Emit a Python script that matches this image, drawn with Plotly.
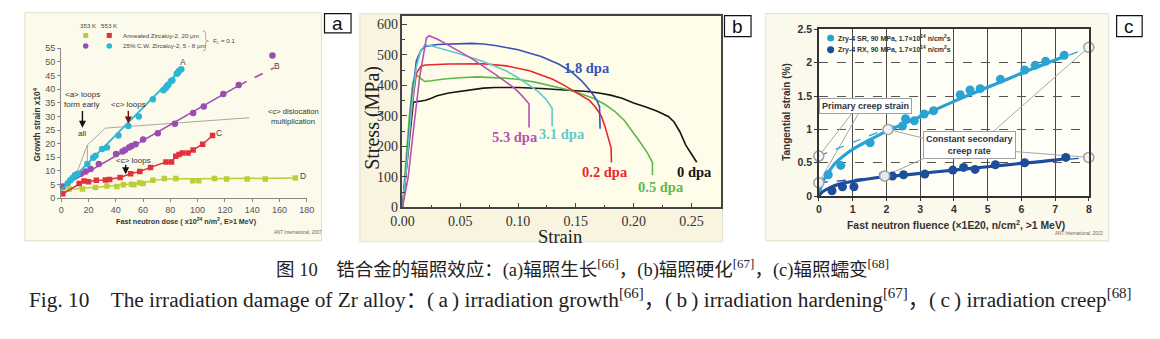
import plotly.graph_objects as go

W, H = 1160, 339
def PX(x): return x / W
def PY(y): return 1 - y / H

NARROW = "Liberation Sans Narrow, Arial Narrow, Liberation Sans, Arial, sans-serif"
SANS = "Liberation Sans, Arial, sans-serif"
SERIF = "Liberation Serif, Times New Roman, serif"
CJK = "Liberation Serif, Noto Sans CJK SC, serif"

# ---------------- Panel (a): irradiation growth ----------------
dose_A = [4.8, 6.7, 8.4, 10.1, 12, 19.2, 23.5, 25.2, 30, 33.6, 42, 49.2, 56.9, 67.2, 74.9, 76.5, 77.5, 78.5, 80.4, 81.5, 84.7, 85.5, 86.5, 88]
strain_A = [5.5, 6.6, 7.4, 8.4, 9.0, 12.5, 14.8, 15.6, 18.0, 18.6, 23.0, 26.5, 30.0, 36.3, 39.6, 40.3, 41.0, 41.6, 42.9, 43.2, 45.6, 46.0, 46.7, 47.3]
fit_A_dose = [0, 88]
fit_A_strain = [3.0, 47.3]

dose_B = [1.2, 14.4, 18, 21.6, 27.6, 40.3, 44.9, 46.8, 49.7, 51.6, 54.5, 60, 70.8, 83.3, 96.7, 104.5, 118.8, 130.1, 154.8]
strain_B = [4.3, 9.0, 9.8, 10.7, 12.5, 16.2, 17.1, 17.7, 18.6, 19.1, 19.8, 21.5, 23.8, 27.3, 31.2, 33.6, 38.2, 41.5, 52.3]
fit_B_dose = [0, 130]
fit_B_strain = [4.0, 41.3]
ext_B_dose = [130, 156]
ext_B_strain = [41.3, 47.8]

dose_C = [1.2, 13.2, 16.8, 20, 25.8, 32.4, 35.5, 43.2, 50.9, 57.6, 65.5, 76.8, 80.9, 84, 86.4, 88.8, 93, 96.7, 103.7, 110.9]
strain_C = [1.6, 5.4, 6.3, 6.0, 6.6, 6.7, 6.9, 7.6, 9.0, 9.8, 11.3, 13.3, 13.3, 15.4, 16.0, 16.6, 16.6, 17.7, 19.8, 23.0]

dose_D = [6.0, 15.6, 25.2, 33.6, 40.8, 45.6, 51.6, 53.3, 57.6, 60, 67.2, 75.6, 84, 96.5, 100.8, 112.3, 121.2, 136.3, 149.5, 171.6]
strain_D = [3.4, 3.4, 3.9, 4.5, 4.3, 4.9, 5.1, 4.9, 5.7, 5.4, 6.6, 7.2, 7.2, 6.4, 6.4, 7.2, 7.0, 7.0, 7.0, 7.4]
fit_D_dose = [0, 20, 40, 60, 75, 100, 172]
fit_D_strain = [3.0, 3.8, 4.7, 5.8, 7.0, 7.1, 7.4]

guide_a1_dose = [12, 19.2, 32.4, 138]
guide_a1_strain = [10, 19.5, 25.7, 29.5]
guide_a2_dose = [19.2, 19.2]
guide_a2_strain = [19.5, 11.9]

xticks_a = list(range(0, 181, 20))
yticks_a = list(range(0, 56, 5))

# ---------------- Panel (b): stress-strain ----------------
e_0 = [0, 0.003, 0.006, 0.0094, 0.015, 0.02, 0.025, 0.03, 0.04, 0.05, 0.06, 0.07, 0.08, 0.1, 0.12, 0.14, 0.15, 0.16, 0.17, 0.18, 0.19, 0.2, 0.21, 0.22, 0.23, 0.235, 0.24, 0.245, 0.25, 0.2546]
s_0 = [0, 110, 230, 345, 348, 351, 358, 366, 375, 380, 387, 391, 393, 393, 390, 386, 383, 380, 375, 368, 358, 342, 330, 316, 298, 280, 248, 205, 175, 148]
e_05 = [0, 0.003, 0.006, 0.009, 0.0122, 0.015, 0.0193, 0.025, 0.036, 0.05, 0.0646, 0.0873, 0.1, 0.1156, 0.13, 0.145, 0.155, 0.165, 0.175, 0.184, 0.192, 0.2, 0.206, 0.212, 0.2163, 0.2163]
s_05 = [0, 150, 300, 410, 435, 425, 413, 415, 421, 425, 428, 424, 420, 410, 398, 384, 372, 358, 338, 314, 285, 245, 212, 178, 147, 105]
e_02 = [0, 0.004, 0.008, 0.012, 0.016, 0.02, 0.04, 0.07, 0.09, 0.11, 0.13, 0.14, 0.148, 0.155, 0.162, 0.167, 0.172, 0.175, 0.178, 0.1805, 0.1808]
s_02 = [0, 150, 320, 440, 463, 467, 470, 471, 464, 448, 420, 400, 382, 368, 350, 328, 300, 268, 230, 195, 147]
e_18 = [0, 0.004, 0.008, 0.012, 0.016, 0.02, 0.03, 0.045, 0.06, 0.07, 0.08, 0.1, 0.12, 0.135, 0.145, 0.155, 0.163, 0.168, 0.1705, 0.171]
s_18 = [0, 160, 350, 480, 515, 528, 534, 537, 538, 536, 531, 517, 495, 470, 448, 415, 380, 352, 330, 258]
e_31 = [0, 0.004, 0.008, 0.012, 0.016, 0.0193, 0.025, 0.03, 0.05, 0.07, 0.09, 0.1, 0.11, 0.118, 0.124, 0.128, 0.1295, 0.1295]
s_31 = [0, 150, 330, 460, 515, 532, 530, 524, 503, 478, 447, 425, 400, 378, 355, 335, 325, 265]
e_53 = [0, 0.005, 0.01, 0.015, 0.0207, 0.023, 0.03, 0.04, 0.05, 0.06, 0.07, 0.08, 0.09, 0.097, 0.103, 0.107, 0.1095, 0.1095]
s_53 = [0, 100, 270, 430, 555, 563, 552, 532, 510, 488, 463, 437, 410, 390, 368, 350, 340, 262]
xticks_b = [0, 0.05, 0.10, 0.15, 0.20, 0.25]
yticks_b = [0, 100, 200, 300, 400, 500, 600]

# ---------------- Panel (c): irradiation creep ----------------
fl_SR = [0.28, 0.65, 1.52, 2.48, 2.57, 2.83, 3.12, 3.4, 4.19, 4.48, 4.78, 5.38, 6.1, 6.41, 6.72, 7.27]
eps_SR = [0.32, 0.46, 0.80, 1.05, 1.16, 1.13, 1.23, 1.28, 1.52, 1.59, 1.61, 1.75, 1.89, 1.96, 2.02, 2.11]
fl_RX = [0.39, 0.70, 1.04, 1.91, 2.18, 2.51, 3.14, 3.97, 4.29, 4.63, 5.23, 6.1, 7.32]
eps_RX = [0.08, 0.14, 0.14, 0.31, 0.30, 0.32, 0.33, 0.39, 0.43, 0.40, 0.47, 0.50, 0.58]
curve_SR_x = [0, 0.05, 0.15, 0.3, 0.5, 0.75, 1.0, 1.5, 2.0, 2.5, 3, 4, 5, 6, 7, 7.3]
curve_SR_y = [0, 0.12, 0.25, 0.37, 0.5, 0.61, 0.7, 0.84, 0.97, 1.08, 1.19, 1.42, 1.63, 1.84, 2.04, 2.1]
curve_RX_x = [0, 0.1, 0.3, 0.6, 1.0, 1.5, 2.0, 3, 4, 5, 6, 7, 7.3]
curve_RX_y = [0, 0.06, 0.12, 0.18, 0.22, 0.26, 0.29, 0.34, 0.39, 0.44, 0.49, 0.54, 0.56]
sec_SR_x = [0, 8]
sec_SR_y = [0.6, 2.23]
sec_RX_x = [0, 8]
sec_RX_y = [0.2, 0.58]
open_x = [0, 2.05, 8, 0, 1.95, 8]
open_y = [0.6, 1.0, 2.23, 0.2, 0.3, 0.58]
guides_c = [
    ([0, 1.15], [0.6, 1.35]),
    ([0, 1.3], [0.2, 1.35]),
    ([2.05, 3.8], [1.0, 0.78]),
    ([1.95, 3.8], [0.3, 0.72]),
    ([4.9, 8], [0.85, 2.23]),
    ([5.0, 8], [0.7, 0.58]),
]
xticks_c = list(range(0, 9))
yticks_c = [0, 0.5, 1, 1.5, 2, 2.5]
yticklabels_c = ["0", "0.5", "1", "1.5", "2", "2.5"]

# colours
C_A, C_B, C_C, C_D = "#2DB5D6", "#9A4DB0", "#E0313C", "#B9CF3A"
C_SR, C_RX = "#2AA2D4", "#1E4D9B"

fig = go.Figure()

def add(x, y, ax, **kw):
    kw.setdefault("hoverinfo", "skip")
    fig.add_trace(go.Scatter(x=x, y=y, xaxis="x" + ax, yaxis="y" + ax, showlegend=False, **kw))

# panel a traces
add(guide_a1_dose, guide_a1_strain, "", mode="lines", line=dict(color="#A8A8A8", width=1))
add(guide_a2_dose, guide_a2_strain, "", mode="lines", line=dict(color="#A8A8A8", width=1))
add(fit_D_dose, fit_D_strain, "", mode="lines", line=dict(color=C_D, width=1.5, shape="spline"))
add(dose_D, strain_D, "", mode="markers", marker=dict(symbol="square", size=5.5, color=C_D))
add(dose_C, strain_C, "", mode="lines+markers", line=dict(color=C_C, width=1.5), marker=dict(symbol="square", size=5.5, color=C_C))
add(fit_B_dose, fit_B_strain, "", mode="lines", line=dict(color=C_B, width=1.5))
add(ext_B_dose, ext_B_strain, "", mode="lines", line=dict(color=C_B, width=1.5, dash="dash"))
add(dose_B, strain_B, "", mode="markers", marker=dict(size=6.5, color=C_B), cliponaxis=False)
add(fit_A_dose, fit_A_strain, "", mode="lines", line=dict(color=C_A, width=1.8))
add(dose_A, strain_A, "", mode="markers", marker=dict(size=6.5, color=C_A))

# panel b traces
for e, s, c in [(e_0, s_0, "#151515"), (e_05, s_05, "#5DB94A"), (e_02, s_02, "#E8262C"),
                (e_18, s_18, "#3553B8"), (e_31, s_31, "#62CACB"), (e_53, s_53, "#B552B5")]:
    add(e, s, "2", mode="lines", line=dict(color=c, width=1.6))

# panel c traces
for gx, gy in guides_c:
    add(gx, gy, "3", mode="lines", line=dict(color="#A5A5A5", width=1))
add(sec_SR_x, sec_SR_y, "3", mode="lines", line=dict(color=C_SR, width=1.3, dash="dash"), cliponaxis=False)
add(sec_RX_x, sec_RX_y, "3", mode="lines", line=dict(color=C_RX, width=1.3, dash="dash"), cliponaxis=False)
add(curve_SR_x, curve_SR_y, "3", mode="lines", line=dict(color=C_SR, width=3.2, shape="spline"))
add(curve_RX_x, curve_RX_y, "3", mode="lines", line=dict(color=C_RX, width=3.2, shape="spline"))
add(fl_SR, eps_SR, "3", mode="markers", marker=dict(size=9, color=C_SR))
add(fl_RX, eps_RX, "3", mode="markers", marker=dict(size=9, color=C_RX))
add(open_x, open_y, "3", mode="markers", cliponaxis=False,
    marker=dict(size=10, color="rgba(250,250,250,0.9)", line=dict(color="#A0A0A0", width=1.5)))

shapes = []
def rect(x0, y0, x1, y1, fill, line, lw=1, layer="below"):
    shapes.append(dict(type="rect", xref="paper", yref="paper", x0=PX(x0), x1=PX(x1), y0=PY(y1), y1=PY(y0),
                       fillcolor=fill, line=dict(color=line, width=lw), layer=layer))

rect(13, 7, 315, 245, "#FCFAEB", "#E4E0CA")
rect(354, 8, 723, 246, "#F8F4E0", "#E4E0CA")
rect(397.3, 10, 721.7, 210, "#FFFDE9", "rgba(0,0,0,0)", 0)
rect(767, 8, 1116, 245, "#FBF9EC", "#E2DEC8")
rect(821, 24.3, 1095.7, 198.3, "#FFFFF7", "rgba(0,0,0,0)", 0)
# panel label boxes
rect(318, 8, 345, 28, "white", "#111", 1.2, "above")
rect(725, 10, 752, 32, "white", "#111", 1.2, "above")
rect(1124, 10, 1150, 32, "white", "#111", 1.2, "above")

# panel a legend symbols
def sq(cx, cy, s, col):
    shapes.append(dict(type="rect", xref="paper", yref="paper", x0=PX(cx - s), x1=PX(cx + s), y0=PY(cy + s), y1=PY(cy - s),
                       fillcolor=col, line=dict(width=0), layer="above"))
def circ(cx, cy, r, col, lc=None):
    shapes.append(dict(type="circle", xref="paper", yref="paper", x0=PX(cx - r), x1=PX(cx + r), y0=PY(cy + r), y1=PY(cy - r),
                       fillcolor=col, line=dict(width=0 if lc is None else 1, color=lc or col), layer="above"))
sq(75, 30.7, 2.6, C_D)
sq(99, 30.7, 2.6, C_C)
circ(75, 41.7, 2.8, C_B)
circ(99, 41.7, 2.8, C_A)
# brace
bx, bt, bb = 194, 26, 47
bm = (bt + bb) / 2
pts = f"M {PX(bx)},{PY(bt)} Q {PX(bx+3)},{PY(bt)} {PX(bx+3)},{PY(bt+3)} L {PX(bx+3)},{PY(bm-2)} Q {PX(bx+3)},{PY(bm)} {PX(bx+6)},{PY(bm)} Q {PX(bx+3)},{PY(bm)} {PX(bx+3)},{PY(bm+2)} L {PX(bx+3)},{PY(bb-3)} Q {PX(bx+3)},{PY(bb)} {PX(bx)},{PY(bb)}"
shapes.append(dict(type="path", xref="paper", yref="paper", path=pts, line=dict(color="#999", width=0.8), layer="above"))
# panel c legend symbols
circ(833, 33.5, 3.6, C_SR)
circ(833, 45.7, 3.6, C_RX)

ann = []
def T(x, y, text, size, color="#333", family=NARROW, weight="normal", xanchor="center", yanchor="middle", ref="paper", angle=0, **kw):
    if ref == "paper":
        d = dict(x=PX(x), y=PY(y), xref="paper", yref="paper")
    else:
        d = dict(x=x, y=y, xref="x" + ref if ref != "1" else "x", yref="y" + ref if ref != "1" else "y")
    d.update(text=text, showarrow=False, xanchor=xanchor, yanchor=yanchor, textangle=angle,
             font=dict(size=size, color=color, family=family, weight=weight))
    d.update(kw)
    ann.append(d)

def ARROW(x, y, ax, ay, color):
    ann.append(dict(x=x, y=y, ax=ax, ay=ay, xref="x", yref="y", axref="x", ayref="y", text="",
                    showarrow=True, arrowhead=2, arrowsize=1, arrowwidth=1.4, arrowcolor=color))

# panel labels
T(331.5, 18, "a", 19, "#111", SANS)
T(738.5, 21, "b", 19, "#111", SANS)
T(1137, 21, "c", 19, "#111", SANS)

# panel a text
T(25, 124, "<b>Growth strain x10<sup>4</sup></b>", 8.3, "#333", angle=-90)
T(178, 224, "<b>Fast neutron dose ( x10<sup>24</sup> n/m<sup>2</sup>, E&gt;1 MeV)</b>", 7.2, "#333")
T(291, 236.5, "ANT International, 2007", 4.5, "#666")
T(77.7, 20, "353 K", 6.2, "#444")
T(99, 20, "553 K", 6.2, "#444")
T(110.5, 30.7, "Annealed Zircaloy-2, 20 μm", 6.2, "#444", xanchor="left")
T(110.5, 41.7, "25% C.W. Zircaloy-2, 5 - 8 μm", 6.2, "#444", xanchor="left")
T(202, 36, "F<sub>L</sub> = 0.1", 6.2, "#444", xanchor="left")
T(15.5, 38.2, "&lt;a&gt; loops", 8, "#333", ref="1")
T(15.5, 34.5, "form early", 8, "#333", ref="1")
T(15.6, 23.6, "all", 8, "#333", ref="1")
T(49, 34.2, "&lt;c&gt; loops", 8, "#333", ref="1")
T(53.3, 14.0, "&lt;c&gt; loops", 8, "#333", ref="1")
T(170, 31.8, "&lt;c&gt; dislocation", 7.6, "#333", ref="1")
T(170, 28.0, "multiplication", 7.6, "#333", ref="1")
T(89.5, 49.8, "A", 8.5, "#444", ref="1")
T(158.5, 48.6, "B", 8.5, "#444", ref="1")
T(115.5, 24.0, "C", 8.5, "#444", ref="1")
T(177.5, 8.0, "D", 8.5, "#444", ref="1")
ARROW(15.6, 25.8, 15.6, 32.5, "#111")
ARROW(49.2, 27.4, 49.2, 32.6, "#7A1010")
ARROW(47.3, 8.8, 47.3, 12.8, "#111")

# panel b text
T(366, 117, "Stress (MPa)", 20, "#222", SERIF, angle=-90)
T(558, 241, "Strain", 18.5, "#222", SERIF)
for txt, x, y, c in [("1.8 dpa", 0.160, 456, "#3553B8"), ("5.3 dpa", 0.097, 230, "#B552B5"),
                     ("3.1 dpa", 0.138, 241, "#62CACB"), ("0.2 dpa", 0.175, 117, "#E8262C"),
                     ("0.5 dpa", 0.2234, 68, "#5DB94A"), ("0 dpa", 0.253, 115, "#151515")]:
    T(x, y, txt, 14.5, c, SERIF, weight="bold", ref="2")

# panel c text
T(788, 110, "<b>Tangential strain (%)</b>", 10, "#333", angle=-90)
T(961, 227.7, "<b>Fast neutron fluence (×1E20, n/cm<sup>2</sup>, &gt;1 MeV)</b>", 10.4, "#333")
T(1086, 237.3, "ANT International, 2013", 4.5, "#666")
T(838.5, 33.5, "<b>Zry-4 SR, 90 MPa, 1.7×10<sup>14</sup> n/cm<sup>2</sup>s</b>", 7.0, "#333", xanchor="left")
T(838.5, 45.7, "<b>Zry-4 RX, 90 MPa, 1.7×10<sup>14</sup> n/cm<sup>2</sup>s</b>", 7.0, "#333", xanchor="left")
T(868, 104, "<b>Primary creep strain</b>", 9, "#333", bgcolor="white", bordercolor="#A0A0A0", borderwidth=1, borderpad=2)
T(974, 145, "<b>Constant secondary<br>creep rate</b>", 9, "#333", bgcolor="white", bordercolor="#A0A0A0", borderwidth=1, borderpad=2)

# caption
T(581, 274, "图 10\u3000锆合金的辐照效应：(a)辐照生长<sup>[66]</sup>，(b)辐照硬化<sup>[67]</sup>，(c)辐照蠕变<sup>[68]</sup>", 18.5, "#222", CJK)
T(578, 305, "Fig. 10\u2003The irradiation damage of Zr alloy：(\u2009a\u2009) irradiation growth<sup>[66]</sup>，(\u2009b\u2009) irradiation hardening<sup>[67]</sup>，(\u2009c\u2009) irradiation creep<sup>[68]</sup>", 21.3, "#222", CJK)

axcommon = dict(showgrid=False, zeroline=False)
layout = dict(
    width=W, height=H, margin=dict(l=0, r=0, t=0, b=0), paper_bgcolor="white", plot_bgcolor="rgba(0,0,0,0)",
    showlegend=False, shapes=shapes, annotations=ann,
    xaxis=dict(domain=[PX(50), PX(300)], range=[0, 180], tickvals=xticks_a, ticks="outside", ticklen=3,
               tickcolor="#888", linecolor="#888", showline=True, anchor="y",
               tickfont=dict(size=9, color="#555", family=NARROW), **axcommon),
    yaxis=dict(domain=[PY(200.5), PY(44)], range=[0, 55], tickvals=yticks_a, ticks="outside", ticklen=3,
               tickcolor="#888", linecolor="#888", showline=True, anchor="x",
               tickfont=dict(size=9, color="#555", family=NARROW), **axcommon),
    xaxis2=dict(domain=[PX(397.3), PX(721.7)], range=[0, 0.2758], tickvals=xticks_b, tickformat=".2f",
                ticks="inside", ticklen=5, tickcolor="#444", linecolor="#444", linewidth=1.5, showline=True,
                mirror=True, anchor="y2", minor=dict(dtick=0.025, ticks="inside", ticklen=3, tickcolor="#444"),
                tickfont=dict(size=14, color="#333", family=SERIF), **axcommon),
    yaxis2=dict(domain=[PY(210), PY(10)], range=[0, 629], tickvals=yticks_b,
                ticks="inside", ticklen=5, tickcolor="#444", linecolor="#444", linewidth=1.5, showline=True,
                mirror=True, anchor="x2", minor=dict(dtick=50, ticks="inside", ticklen=3, tickcolor="#444"),
                tickfont=dict(size=14, color="#333", family=SERIF), **axcommon),
    xaxis3=dict(domain=[PX(821), PX(1095.7)], range=[0, 8], tickvals=xticks_c, showgrid=True, gridcolor="#4A4A4A",
                gridwidth=1, zeroline=False, ticks="outside", ticklen=3, tickcolor="#333", linecolor="#333",
                linewidth=1.5, showline=True, mirror=True, anchor="y3",
                tickfont=dict(size=10.5, color="#333", family=NARROW, weight="bold")),
    yaxis3=dict(domain=[PY(198.3), PY(24.3)], range=[0, 2.5], tickvals=yticks_c, ticktext=yticklabels_c,
                showgrid=True, gridcolor="#555", griddash="dash", gridwidth=1, zeroline=False,
                ticks="outside", ticklen=3, tickcolor="#333", linecolor="#333", linewidth=1.5, showline=True,
                mirror=True, anchor="x3", tickfont=dict(size=10.5, color="#333", family=NARROW, weight="bold")),
)
fig.update_layout(**layout)
fig.write_html("out.html")
